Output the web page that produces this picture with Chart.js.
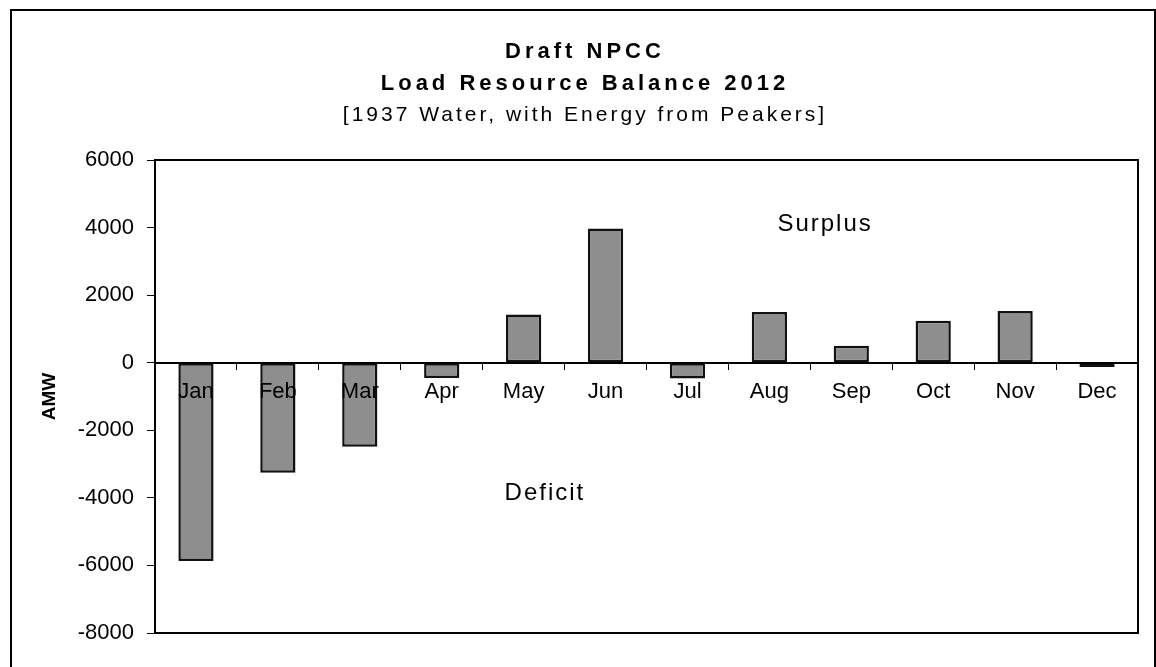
<!DOCTYPE html>
<html>
<head>
<meta charset="utf-8">
<title>Load Resource Balance 2012</title>
<script src="https://cdn.jsdelivr.net/npm/chart.js@4.4.1/dist/chart.umd.min.js"></script>
<style>
  body { margin: 0; background: #fff; }
</style>
</head>
<body>
<canvas id="myGraph" width="1156" height="667"></canvas>
<script>
// monthly balance, AMW
var months = ['Jan', 'Feb', 'Mar', 'Apr', 'May', 'Jun', 'Jul', 'Aug', 'Sep', 'Oct', 'Nov', 'Dec'];
var balance = [-5870, -3260, -2490, -450, 1430, 3970, -470, 1500, 500, 1240, 1530, -130];

var titleLines = ['Draft NPCC', 'Load Resource Balance 2012'];
var subTitle = '[1937 Water, with Energy from Peakers]';
var axisLabel = 'AMW';

var FONT = "'Liberation Sans', Arial, sans-serif";

// frame, titles and the Surplus / Deficit notes
var framePlugin = {
    id: 'frame',
    beforeDraw: function (chart) {
        var ctx = chart.ctx;
        ctx.save();
        ctx.strokeStyle = '#000';
        ctx.lineWidth = 2;
        ctx.strokeRect(11, 10, 1144, 720);
        ctx.restore();
    },
    afterDraw: function (chart) {
        var ctx = chart.ctx;
        var a = chart.chartArea;
        ctx.save();
        ctx.strokeStyle = '#000';
        ctx.lineWidth = 2;
        ctx.strokeRect(a.left, a.top, a.right - a.left, a.bottom - a.top);

        ctx.fillStyle = '#000';
        ctx.textAlign = 'center';
        ctx.textBaseline = 'middle';
        ctx.font = 'bold 22px ' + FONT;
        ctx.letterSpacing = '4px';
        ctx.fillText(titleLines[0], 585, 52);
        ctx.fillText(titleLines[1], 585, 84);
        ctx.font = '21px ' + FONT;
        ctx.letterSpacing = '3px';
        ctx.fillText(subTitle, 585, 115);

        var x = chart.scales.x, y = chart.scales.y;
        ctx.font = '24px ' + FONT;
        ctx.letterSpacing = '2px';
        ctx.fillText('Surplus', x.getPixelForValue(7.68), y.getPixelForValue(4100));
        ctx.fillText('Deficit', x.getPixelForValue(4.26), y.getPixelForValue(-3860));
        ctx.restore();
    }
};

var ctx = document.getElementById('myGraph');
var myGraph = new Chart(ctx, {
    type: 'bar',
    data: {
        labels: months,
        datasets: [{
            label: 'balance',
            data: balance,
            backgroundColor: '#8e8e8e',
            borderColor: '#111',
            borderWidth: 2.5,
            borderSkipped: false,
            barPercentage: 0.86,
            categoryPercentage: 0.5
        }]
    },
    options: {
        responsive: false,
        animation: false,
        layout: {
            padding: { top: 160, left: 30, right: 18, bottom: 34 }
        },
        plugins: {
            legend: { display: false },
            tooltip: { enabled: false }
        },
        scales: {
            x: {
                position: { y: 0 },
                grid: {
                    drawOnChartArea: false,
                    color: '#000',
                    tickLength: 6
                },
                border: { color: '#000', width: 2, z: 1 },
                ticks: {
                    z: 1, // month names sit on top of the bars, like the original
                    color: '#000',
                    padding: 10,
                    font: { family: FONT, size: 22 }
                }
            },
            y: {
                min: -8000,
                max: 6000,
                afterFit: function (axis) { axis.width = 125; },
                grid: {
                    drawOnChartArea: false,
                    color: '#000',
                    tickLength: 8
                },
                border: { color: '#000', width: 2 },
                ticks: {
                    stepSize: 2000,
                    color: '#000',
                    padding: 13,
                    font: { family: FONT, size: 22 },
                    callback: function (v) { return String(v); }
                },
                title: {
                    display: true,
                    text: axisLabel,
                    color: '#000',
                    padding: { top: 8 },
                    font: { family: FONT, size: 19, weight: 'bold' }
                }
            }
        }
    },
    plugins: [framePlugin]
});
</script>
</body>
</html>
